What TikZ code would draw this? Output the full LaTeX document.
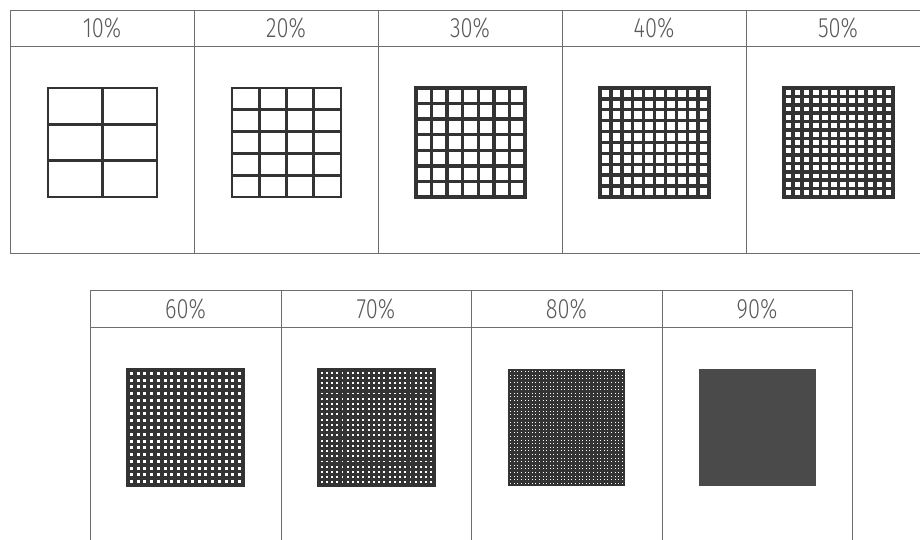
\documentclass[tikz,border=0pt]{standalone}
\usepackage{fontspec}
\setmainfont{Fira Sans Light}
\definecolor{rule}{HTML}{6E6E6E}
\definecolor{ink}{HTML}{333333}
\definecolor{txt}{HTML}{5A5A5A}
\definecolor{solidgray}{HTML}{4A4A4A}
\newcommand{\meshgrid}[6]{% x0 y0 size ncols nrows linewidth
  \pgfmathsetmacro{\mgdx}{#3/#4}
  \pgfmathsetmacro{\mgdy}{#3/#5}
  \foreach \k in {0,...,#4}{
    \draw[ink,line width=#6pt,line cap=rect] ({#1+\k*\mgdx},#2) -- ({#1+\k*\mgdx},{#2+#3});
  }
  \foreach \k in {0,...,#5}{
    \draw[ink,line width=#6pt,line cap=rect] (#1,{#2+\k*\mgdy}) -- ({#1+#3},{#2+\k*\mgdy});
  }
}
\tikzset{
  tbl/.style={draw=rule,line width=0.9pt},
  lbl/.style={text=txt,font=\fontsize{28}{30}\selectfont,inner sep=0pt,anchor=center}
}
\begin{document}
\begin{tikzpicture}[x=1pt,y=-1pt]
\useasboundingbox (0,0) rectangle (920,540);
\fill[white] (0,0) rectangle (920,540);
% top table
\draw[tbl] (940,10) -- (10,10) -- (10,253) -- (940,253);
\draw[tbl] (10,46) -- (940,46);
\foreach \x in {194,378,562,746}{\draw[tbl] (\x,10) -- (\x,253);}
% bottom table
\draw[tbl] (90,560) -- (90,290) -- (852,290) -- (852,560);
\draw[tbl] (90,327) -- (852,327);
\foreach \x in {281,471,662}{\draw[tbl] (\x,290) -- (\x,560);}
% labels
\node[lbl] (l10) at (102,28) {\scalebox{0.78}[1]{10\%}};
\node[lbl] (l20) at (286,28) {\scalebox{0.78}[1]{20\%}};
\node[lbl] (l30) at (470,28) {\scalebox{0.78}[1]{30\%}};
\node[lbl] (l40) at (654,28) {\scalebox{0.78}[1]{40\%}};
\node[lbl] (l50) at (838,28) {\scalebox{0.78}[1]{50\%}};
\node[lbl] (l60) at (185.5,308.5) {\scalebox{0.78}[1]{60\%}};
\node[lbl] (l70) at (376,308.5) {\scalebox{0.78}[1]{70\%}};
\node[lbl] (l80) at (566.5,308.5) {\scalebox{0.78}[1]{80\%}};
\node[lbl] (l90) at (757,308.5) {\scalebox{0.78}[1]{90\%}};
% top grids
\meshgrid{48}{88}{109}{2}{3}{2.6}
\meshgrid{232}{88}{109}{4}{5}{2.8}
\meshgrid{416}{88}{109}{7}{7}{3.4}
\meshgrid{600}{88}{109}{10}{10}{3.4}
\meshgrid{784}{88}{109}{12}{13}{3.6}
% bottom grids
\meshgrid{128}{370}{115}{17}{17}{3.8}
\meshgrid{319}{370}{115}{22}{22}{3.3}
\meshgrid{509}{370}{115}{32}{32}{2.6}
\fill[solidgray] (699,369) rectangle (816,486);
\end{tikzpicture}
\end{document}
